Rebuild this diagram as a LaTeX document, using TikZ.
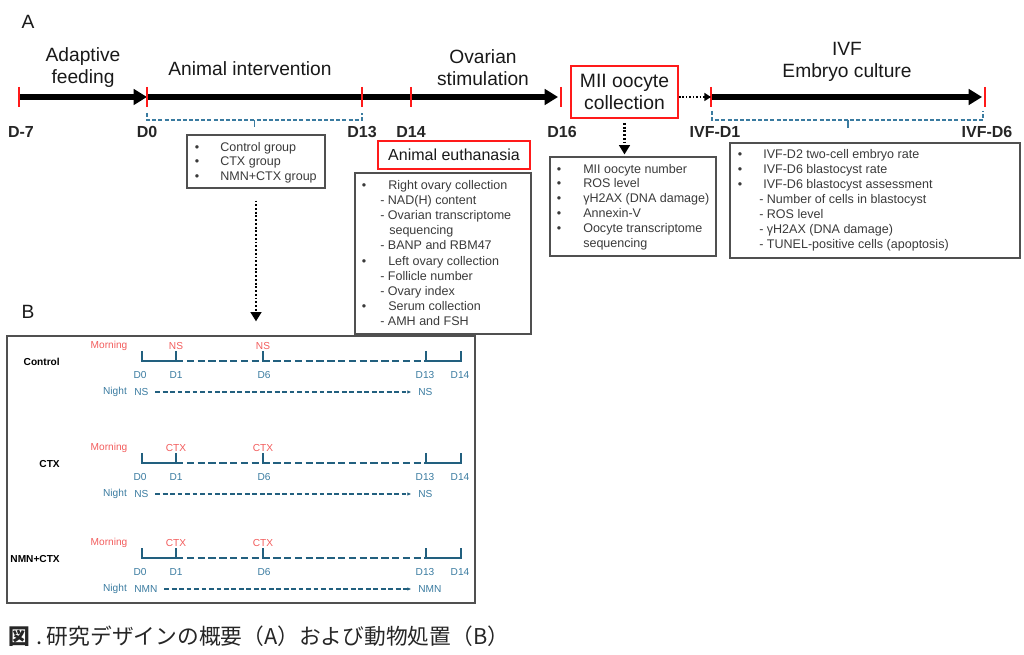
\documentclass[tikz,border=0pt]{standalone}
\usepackage{fontspec}
\setmainfont{Liberation Sans}
\newfontfamily\cjk{Noto Sans CJK JP}
\usetikzlibrary{arrows.meta,fit,calc}
\definecolor{tred}{HTML}{FF1A1A}
\definecolor{tblue}{HTML}{3A7BA0}
\definecolor{tline}{HTML}{22607F}
\definecolor{lred}{HTML}{F25C5C}
\definecolor{boxgray}{HTML}{505050}
\definecolor{txtgray}{HTML}{3A3A3A}
\begin{document}
\begin{tikzpicture}[x=0.75pt,y=-0.75pt,
 font=\fontsize{9.4}{11}\selectfont,
 mainarrow/.style={line width=3.8pt,-{Triangle[length=10pt,width=11.5pt]}},
 redtick/.style={draw=tred,line width=2.2pt},
 daylab/.style={font=\fontsize{12}{14}\selectfont\bfseries,text=black!85,inner sep=0},
 headlab/.style={font=\fontsize{14.4}{16.5}\selectfont,align=center,inner sep=0,text=black!90},
 redbox/.style={draw=tred,line width=1.4pt,inner sep=0,text=black!90},
 listbox/.style={draw=boxgray,line width=0.8pt,inner sep=0},
 bul/.style={inner sep=0,anchor=base,text=txtgray},
 txt/.style={inner sep=0,anchor=base west,text=txtgray},
 brace/.style={draw=tblue,line width=1.1pt,dash pattern=on 3pt off 1.6pt},
 bracetick/.style={draw=tblue,line width=1.1pt},
 dotarrow/.style={line width=2.2pt,dash pattern=on 1.4pt off 1.4pt,-{Triangle[length=7pt,width=8pt]}},
 hdots/.style={line width=1.6pt,dash pattern=on 1.2pt off 1.4pt,-{Triangle[length=5pt,width=6pt]}},
 smallf/.style={inner sep=0,font=\fontsize{7.6}{9}\selectfont},
 mlab/.style={smallf,text=lred},
 dlab/.style={smallf,text=tblue},
 grplab/.style={smallf,font=\fontsize{7.6}{9}\selectfont\bfseries,anchor=east,text=black},
 tl/.style={draw=tline,line width=1.1pt},
 tld/.style={draw=tline,line width=1.1pt,dash pattern=on 5.5pt off 2.6pt},
 narrow/.style={draw=tline,line width=0.9pt,dash pattern=on 3.6pt off 2pt,-{Latex[length=3pt,width=2.6pt]},shorten <=5pt,shorten >=5pt}
]
\useasboundingbox (0,0) rectangle (1024,655);

% ---------- Panel A ----------
\node[headlab] (labA) at (28,22) {A};

\coordinate (pm7) at (19,97);
\coordinate (p0) at (147,97);
\coordinate (p13) at (362,97);
\coordinate (p14) at (411,97);
\coordinate (p16) at (561,97);
\coordinate (pi1) at (711,97);
\coordinate (pi6) at (985,97);

\draw[mainarrow] (pm7) -- (p0);
\draw[mainarrow] (p0) -- ([xshift=-2.2pt]p16);
\draw[mainarrow] (pi1) -- ([xshift=-2.2pt]pi6);
\foreach \p in {pm7,p0,p13,p14,p16,pi1,pi6}
  \draw[redtick] ([yshift=7.5pt]\p) -- ([yshift=-7.5pt]\p);

\node[daylab] (lm7) at (21,132) {D-7};
\node[daylab] (l0) at (147,132) {D0};
\node[daylab] (l13) at (362,132) {D13};
\node[daylab] (l14) at (411,132) {D14};
\node[daylab] (l16) at (562,132) {D16};
\node[daylab] (li1) at (715,132) {IVF-D1};
\node[daylab] (li6) at (987,132) {IVF-D6};

\node[headlab] (hadapt) at (83,68) {Adaptive\\feeding};
\node[headlab] (hint) at (250,69) {Animal intervention};
\node[headlab] (hov) at (483,68) {Ovarian\\stimulation};
\node[headlab] (hivf) at (847,62) {IVF\\Embryo culture};

\node[redbox,minimum width=80.25pt,minimum height=39pt,align=center,
      font=\fontsize{14.5}{16.5}\selectfont] (mii) at (624.5,92) {MII oocyte\\collection};
\draw[hdots] (mii.east |- pi1) -- (pi1);

% braces
\draw[brace] ($(p0)+(0,16)$) -- ($(p0)+(0,23)$) -- ($(p13)+(0,23)$) -- ($(p13)+(0,16)$);
\draw[bracetick] ($(p0)!0.5!(p13)+(0,23)$) -- ($(p0)!0.5!(p13)+(0,30)$);
\draw[brace] ($(pi1)+(1,14)$) -- ($(pi1)+(1,23)$) -- ($(pi6)+(-2,23)$) -- ($(pi6)+(-2,14)$);
\draw[bracetick] ($(pi1)!0.5!(pi6)+(0,23)$) -- ($(pi1)!0.5!(pi6)+(0,31)$);

% group box
\node[listbox,fit={(187,135) (325,188)}] (grpbox) {};
\foreach \yy [count=\i] in {151.5,166,181}
  \node[bul] (gb\i) at (197,\yy) {•};
\foreach \yy/\t [count=\i] in {151.5/Control group,166/CTX group,181/NMN+CTX group}
  \node[txt] (gt\i) at (220,\yy) {\t};

% euthanasia
\node[redbox,minimum width=114pt,minimum height=21pt,font=\fontsize{12}{14}\selectfont] (euth) at (454,155) {Animal euthanasia};
\node[listbox,fit={(355,173) (531,334)}] (eubox) {};
\foreach \yy [count=\i] in {189.5,265.5,310.5}
  \node[bul] (eb\i) at (364,\yy) {•};
\foreach \xx/\yy/\t [count=\i] in {
  388/189.5/Right ovary collection,
  380/204.5/- NAD(H) content,
  380/219.5/- Ovarian transcriptome,
  389/234.5/sequencing,
  380/249.5/- BANP and RBM47,
  388/265.5/Left ovary collection,
  380/280.5/- Follicle number,
  380/295.5/- Ovary index,
  388/310.5/Serum collection,
  380/325.5/- AMH and FSH}
  \node[txt] (et\i) at (\xx,\yy) {\t};

% MII box
\node[listbox,fit={(550,157) (716,256)}] (miibox) {};
\draw[dotarrow,shorten <=3pt,shorten >=1.5pt] (mii.south) -- (mii.south |- miibox.north);
\foreach \yy [count=\i] in {173.5,188,203,218,233}
  \node[bul] (mb\i) at (559,\yy) {•};
\foreach \yy/\t [count=\i] in {
  173.5/MII oocyte number,
  188/ROS level,
  203/γH2AX (DNA damage),
  218/Annexin-V,
  233/Oocyte transcriptome,
  248/sequencing}
  \node[txt] (mt\i) at (583,\yy) {\t};

% IVF box
\node[listbox,fit={(730,143) (1020,258)}] (ivfbox) {};
\foreach \yy [count=\i] in {158.5,173.5,188.5}
  \node[bul] (ib\i) at (740,\yy) {•};
\foreach \xx/\yy/\t [count=\i] in {
  763/158.5/IVF-D2 two-cell embryo rate,
  763/173.5/IVF-D6 blastocyst rate,
  763/188.5/IVF-D6 blastocyst assessment,
  759/203.5/- Number of cells in blastocyst,
  759/218.5/- ROS level,
  759/233.5/- γH2AX (DNA damage),
  759/248.5/- TUNEL-positive cells (apoptosis)}
  \node[txt] (it\i) at (\xx,\yy) {\t};

% ---------- Panel B ----------
\node[headlab] (labB) at (28,312) {B};
\node[draw=boxgray,line width=0.9pt,fit={(7,336) (475,603)},inner sep=0] (pbox) {};
\draw[dotarrow,shorten <=9pt,shorten >=10.5pt] (grpbox.south) -- (grpbox.south |- pbox.north);

\foreach \nm/\m/\drug/\night [count=\i] in {Control/346/NS/NS,CTX/448/CTX/NS,NMN+CTX/543/CTX/NMN}{
  \node[grplab] (grp\i) at (60,\m+16) {\nm};
  \node[mlab] (mor\i) at (109,\m) {Morning};
  \node[mlab] (dra\i) at (176,\m) {\drug};
  \node[mlab] (drb\i) at (263,\m) {\drug};
  \draw[tl] (142,\m+5) -- (142,\m+15) -- (176,\m+15);
  \draw[tld] (176,\m+15) -- (426,\m+15);
  \draw[tl] (426,\m+15) -- (461,\m+15) -- (461,\m+5);
  \draw[tl] (176,\m+5) -- (176,\m+15);
  \draw[tl] (263,\m+5) -- (263,\m+15);
  \draw[tl] (426,\m+5) -- (426,\m+15);
  \node[dlab] (da\i) at (140,\m+29) {D0};
  \node[dlab] (db\i) at (176,\m+29) {D1};
  \node[dlab] (dc\i) at (264,\m+29) {D6};
  \node[dlab] (dd\i) at (425,\m+29) {D13};
  \node[dlab] (de\i) at (460,\m+29) {D14};
  \node[dlab] (nt\i) at (115,\m+46) {Night};
  \node[dlab,anchor=west] (ns\i) at (134,\m+46) {\night};
  \node[dlab,anchor=west] (ne\i) at (418,\m+46) {\night};
  \draw[narrow] (ns\i.east) -- (ne\i.west);
}

% caption
\node[anchor=west,inner sep=0,font=\fontsize{16.3}{19}\selectfont,text=black!85] (cap) at (8,636)
  {{\cjk\bfseries 図}\ {\cjk .\ 研究デザインの概要（A）および動物処置（B）}};
\end{tikzpicture}
\end{document}
